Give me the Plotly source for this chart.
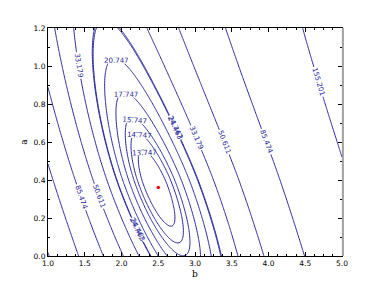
import numpy as np
import plotly.graph_objects as go

# contour levels (as labelled in the reference)
levels = [13.747, 14.747, 15.747, 17.747, 20.747, 24.463, 24.747,
          33.179, 50.611, 85.474, 155.201, 294.663]

# best-fit point (red marker)
best_b = [2.5]
best_a = [0.36]

# surface parameters
z_min = 12.747               # minimum value
a_min = 0.37                 # a at the minimum
curv_up, flat_up = 36.9, 1.6 # valley rise for a > a_min
curv_low = 22.0              # valley rise for a < a_min
valley_coef = [2.84, -1.097, 0.191]   # valley b as polynomial in a
curv_b = 38.0                # curvature across the valley
lam_right_coef = [0.8, 0.17]          # asymmetry on the large-b side (poly in a)
lam_left_coef = [1.1, 0.75, -0.45]    # asymmetry on the small-b side (poly in a)

b_grid = np.linspace(1.0, 5.0, 241)
a_grid = np.linspace(0.0, 1.2, 145)
B, A = np.meshgrid(b_grid, a_grid)

d = A - a_min
zv = np.where(d >= 0, z_min + curv_up * d ** 2 / (1 + flat_up * d),
              z_min + curv_low * d ** 2)
bv = valley_coef[0] + valley_coef[1] * A + valley_coef[2] * A ** 2
u = B - bv
lam_left = lam_left_coef[0] + lam_left_coef[1] * A + lam_left_coef[2] * A ** 2
lam_right = lam_right_coef[0] + lam_right_coef[1] * A
lam = np.where(u >= 0, lam_right, lam_left)
F = curv_b * 2 * (np.exp(-lam * u) - 1 + lam * u) / lam ** 2
Z = np.round(zv + F, 4)

line_col = "#26269a"
fig = go.Figure()
for lv in levels:
    fig.add_trace(go.Contour(
        x=b_grid, y=a_grid, z=Z,
        contours=dict(start=lv, end=lv, size=1, coloring="none",
                      showlabels=True, labelformat=".3f",
                      labelfont=dict(size=7, color=line_col, family="DejaVu Sans")),
        line=dict(color=line_col, width=1),
        showscale=False, hoverinfo="skip",
    ))

fig.add_trace(go.Scatter(x=best_b, y=best_a, mode="markers",
                         marker=dict(color="red", size=3.5, symbol="circle"),
                         showlegend=False))

tickfont = dict(family="DejaVu Sans", size=7.5, color="black")
common = dict(ticks="inside", ticklen=4, tickcolor="black", tickwidth=1,
              mirror="allticks", showline=True, linecolor="black", linewidth=1,
              showgrid=False, zeroline=False, tickfont=tickfont, automargin=False,
              tickformat=".1f")
fig.update_xaxes(range=[1.0, 5.0], dtick=0.5, tick0=1.0, **common,
                 minor=dict(dtick=0.125, ticks="inside", ticklen=2, tickcolor="black", showgrid=False),
                 title=dict(text="b", font=dict(family="DejaVu Serif", size=9, color="black"), standoff=3))
fig.update_yaxes(range=[0.0, 1.2], dtick=0.2, tick0=0.0, **common,
                 minor=dict(dtick=0.1, ticks="inside", ticklen=2, tickcolor="black", showgrid=False),
                 title=dict(text="a", font=dict(family="DejaVu Serif", size=9, color="black"), standoff=4))
fig.add_shape(type="line", xref="paper", yref="paper", x0=1.003, x1=1.003, y0=0, y1=1,
              line=dict(color="#a0a0a0", width=2))
# the page body adds an 8px offset, so the figure is sized to fill the rest
fig.update_layout(template="none", width=372, height=277,
                  margin=dict(l=40, r=38, t=20, b=29, pad=0),
                  plot_bgcolor="white", paper_bgcolor="white", showlegend=False)
fig.write_html("out.html")
